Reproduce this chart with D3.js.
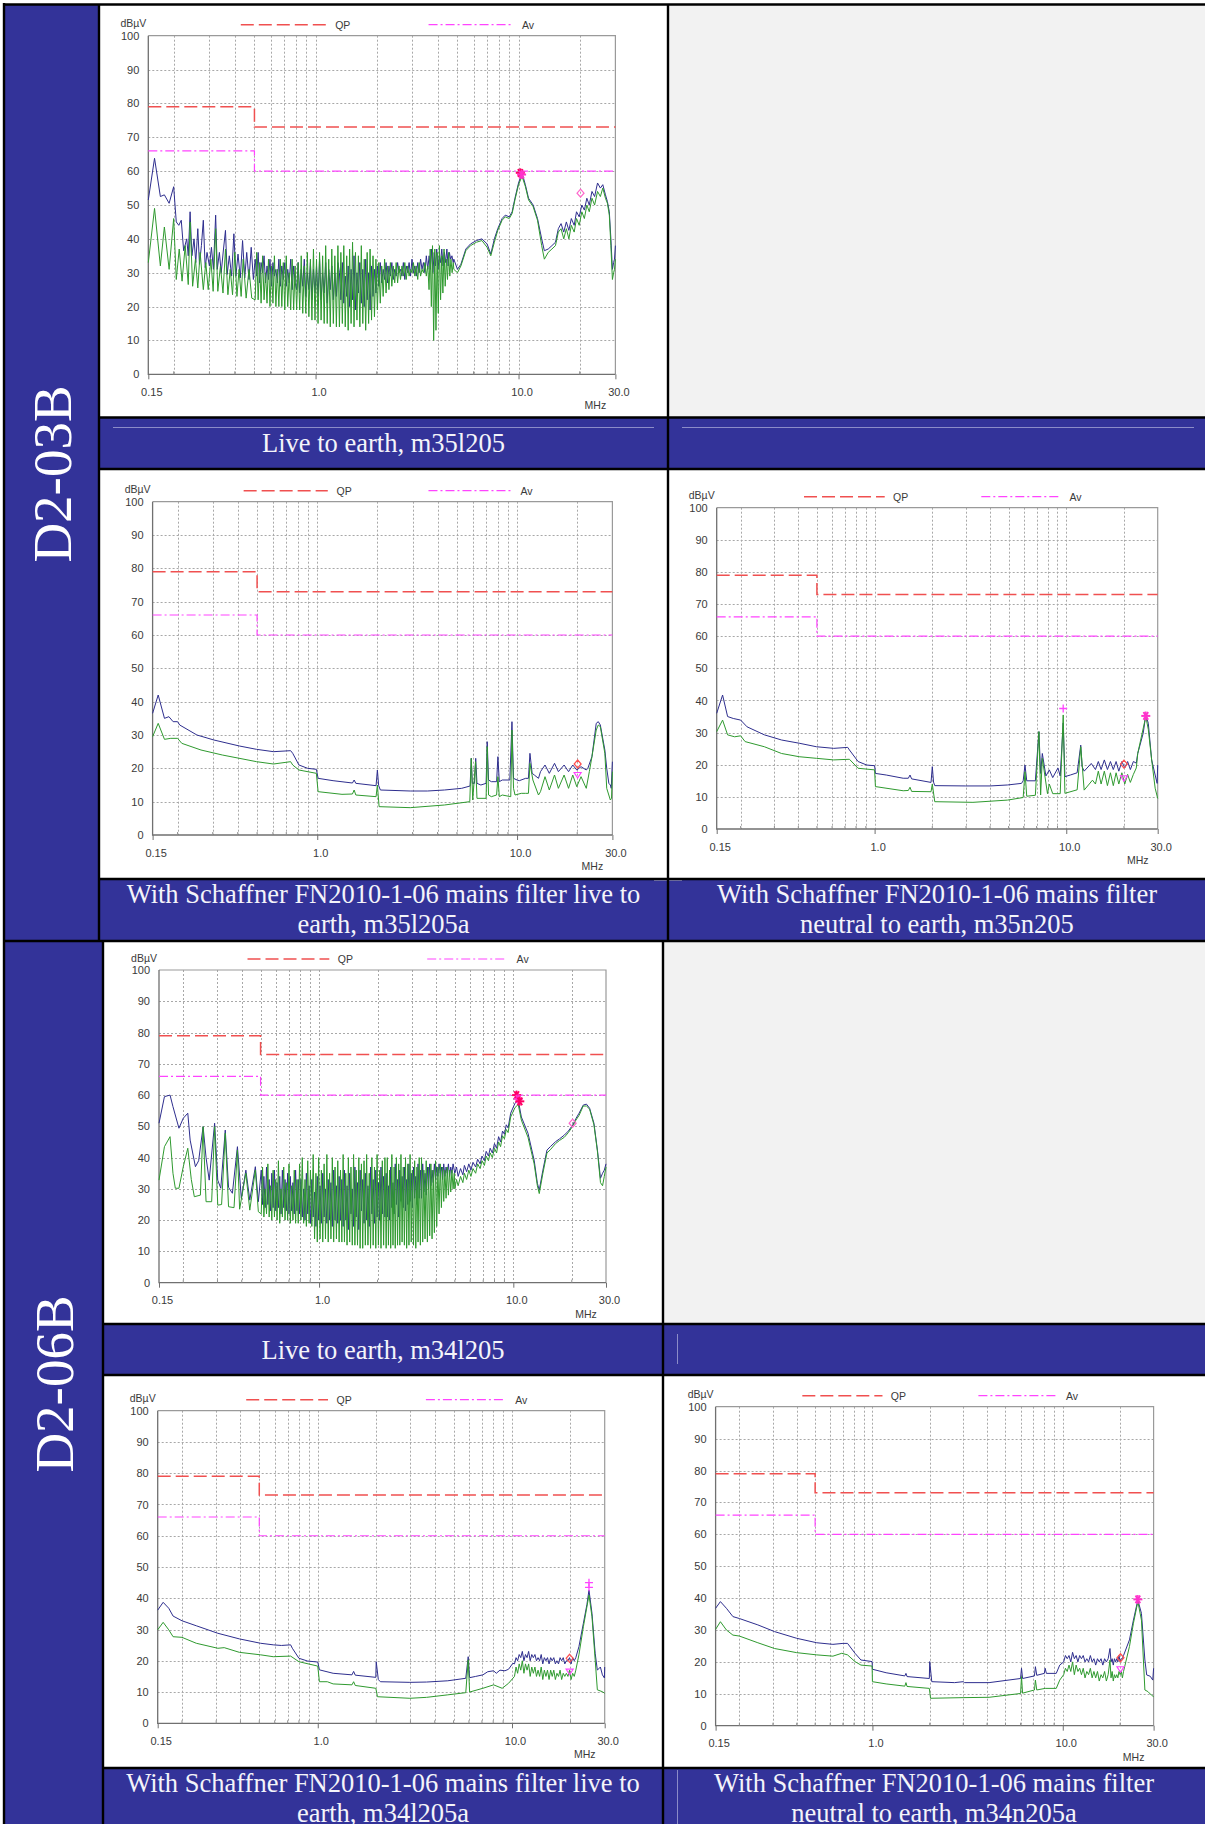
<!DOCTYPE html>
<html>
<head>
<meta charset="utf-8">
<script src="https://cdn.jsdelivr.net/npm/d3@7"></script>
<style>
  body { margin: 0; background: #fff; }
  svg { display: block; }
</style>
</head>
<body>
<div id="page"></div>
<script>
// ---- shared axis data ----
const xTickValues = [0.15, 1, 10, 30];
const xTickLabels = ["0.15", "1.0", "10.0", "30.0"];
const yTickValues = [0, 10, 20, 30, 40, 50, 60, 70, 80, 90, 100];
const gridFreqs = [0.2, 0.3, 0.4, 0.5, 0.6, 0.7, 0.8, 0.9, 2, 3, 4, 5, 6, 7, 8, 9, 20];

// EN55022 class A style limits
const qpLimit = [[0.15, 79], [0.5, 79], [0.5, 73], [30, 73]];
const avLimit = [[0.15, 66], [0.5, 66], [0.5, 60], [30, 60]];

// ---- traces: [MHz, dBuV] pairs, or {from,to,v} runs of readings across a band ----
// m35l205 : D2-03B live to earth
const m35l205Peak = [
  [0.15,51.5],[0.161,63.8],[0.172,52.5],[0.18,53],[0.19,50.5],[0.2,55.4],[0.206,45],[0.212,44],
  [0.218,45.5],[0.224,36.5],[0.232,40],[0.236,35],[0.241,48],[0.246,35],[0.252,40],[0.257,33],
  [0.263,43],[0.268,32.5],[0.274,38],[0.28,45.5],[0.286,31.5],[0.292,36],[0.3,32],[0.307,37.5],
  [0.314,31],[0.322,47],[0.328,31],[0.336,36],[0.343,30],[0.352,37],[0.36,42.5],[0.367,29.5],
  [0.376,35],[0.386,29],[0.396,41.5],[0.405,29],[0.415,35.5],[0.426,28.5],[0.437,39.5],
  [0.448,28.5],[0.458,36],[0.47,28],[0.482,37.5],[0.494,28],
  {from:0.5, to:0.8, v:[34,29,36,27,33,30,35,27,32,28,34,26,33,29,31,27,34,26,32,28,33,26,31,27,34,25,32,27]},
  {from:0.8, to:1.3, v:[25,33,24,31,26,34,23,30,25,33,22,31,24,32,23,34,22,30,24,33,21,31,25,32,22,30,23,33]},
  {from:1.3, to:2.0, v:[30,22,33,21,29,23,32,20,31,22,35,19,30,24,33,21,31,20,34,22,30,19,32,23,31,24]},
  {from:2.0, to:2.6, v:[32,26,33,27,31,28,33,27,32,29,33,28,31,29,33,30]},
  {from:2.6, to:3.6, v:[31,29,33,28,32,30,33,29,34,30,32,29,33,30,34,31,33,30,35,31]},
  {from:3.6, to:4.8, v:[35,31,37,30,36,32,37,31,35,33,37,32,36,33,37,32,36,34,35,33]},
  [4.8,34],[5.0,31],[5.2,32.5],[5.5,37],[5.8,38.5],[6.2,39.5],[6.6,40],[7.0,38.5],[7.3,35.5],
  [7.6,40],[7.9,43],[8.3,46],[8.6,47],[9.0,46.5],[9.3,48],[9.6,52],[10,56.5],[10.4,59.5],
  [10.8,56],[11.2,52],[11.8,50],[12.4,46],[13.0,40],[13.4,36.5],[14.0,37],[14.6,38],[15.2,39],
  [15.7,43],[16.2,44.5],[16.7,42],[17.2,45],[17.7,42.5],[18.2,46],[18.8,44],[19.3,48],
  [19.9,46.5],[20.5,50],[21.1,48.5],[21.7,52],[22.3,50],[23,54],[23.7,52.5],[24.5,56.5],
  [25.3,55],[26,56],[26.8,53],[27.4,51],[28,48],[28.5,40],[29,31],[29.4,33],[29.7,34],[30,38]
];
const m35l205Av = [
  [0.15,33],[0.161,49],[0.172,32],[0.18,43.5],[0.19,31],[0.2,46],[0.206,28],[0.213,37],
  [0.22,27.5],[0.228,38],[0.236,26.5],[0.241,45],[0.248,26],[0.256,34],[0.263,25.5],[0.27,36],
  [0.28,25],[0.288,33],[0.296,25],[0.305,34],[0.313,24.5],[0.322,43],[0.33,24.5],[0.34,32],
  [0.35,24],[0.36,37],[0.37,23.5],[0.38,31],[0.39,23.5],[0.4,36],[0.41,23],[0.42,31],[0.43,23],
  [0.44,34],[0.455,22.5],[0.47,31],[0.485,22.5],
  {from:0.5, to:0.8, v:[22,36,22,33,21,35,22,30,21,34,20,32,21,35,20,31,20,34,20,33,19,35,20,30,19,34,19,32]},
  {from:0.8, to:1.3, v:[19,33,19,35,18,32,18,36,17,34,16,37,16,34,15,36,16,35,15,38,15,34,14,37,15,35,14,38]},
  {from:1.3, to:2.0, v:[14,36,15,38,14,35,13,37,15,39,14,36,16,35,14,38,15,34,13,36,15,37,16,35,17,34]},
  {from:2.0, to:2.6, v:[19,33,21,32,23,34,24,32,25,33,26,32,27,33,27,32]},
  {from:2.6, to:3.6, v:[28,32,29,33,28,32,29,31,30,33,29,32,28,33,29,31,30,33,29,32]},
  {from:3.6, to:4.8, v:[25,37,20,38,10,37,13,36,18,38,22,35,24,37,26,34,28,36,29,34,30,33]},
  [4.8,31],[5.0,30],[5.2,32],[5.5,36.5],[5.8,38],[6.2,39],[6.6,39.5],[7.0,37.5],[7.3,35],
  [7.6,39],[7.9,42.5],[8.3,45.5],[8.6,46.5],[9.0,46],[9.3,47.5],[9.6,51.5],[10,56],[10.4,58.5],
  [10.8,55.5],[11.2,51.5],[11.8,49.5],[12.4,45.5],[13.0,38],[13.4,34],[14.0,36],[14.6,37],
  [15.2,38],[15.7,42],[16.2,43],[16.7,40],[17.2,43],[17.7,40],[18.2,44],[18.8,42],[19.3,46],
  [19.9,44],[20.5,48],[21.1,46],[21.7,50],[22.3,48],[23,52],[23.7,50],[24.5,54],[25.3,52.5],
  [26,55],[26.8,52],[27.4,50.5],[28,47],[28.5,38],[29,28],[29.4,30],[29.7,31],[30,34]
];
const m35l205Marks = [[10.2,59.5,"star","#ff0066"],[10.35,59,"star","#ff33cc"],[20.2,53.5,"diamond","#ff66cc"]];

// m35l205a : D2-03B with filter, live to earth
const m35l205aPeak = [
  [0.15,36.5],[0.16,42],[0.172,35],[0.181,35.5],[0.19,34],[0.2,34],[0.205,33],[0.25,30],
  [0.304,28.5],[0.408,26.7],[0.497,25.7],[0.604,25],[0.736,25.3],[0.754,24.5],[0.81,21],
  [0.896,20],[0.99,19.7],[1.01,17],[1.2,16.3],[1.5,15.6],[1.53,16.5],[1.56,15.5],[1.97,14.8],
  [2.0,19.5],[2.03,14.8],[2.07,13.5],[2.92,13.2],[3.56,13.2],[4.33,13.5],[5.28,14],[5.82,14.7],
  [5.9,23],[5.97,15.5],[6.12,15.5],[6.21,23],[6.3,15.5],[6.59,15],[7.0,15.5],[7.09,28],
  [7.2,16.5],[7.44,16],[7.9,16],[8.02,23.5],[8.15,16],[8.43,16.5],[9.2,16.5],[9.43,34],
  [9.6,17],[10.0,16.5],[10.26,16.3],[11.04,17],[11.4,17],[11.6,24.5],[11.9,18.5],[12.2,18],
  [12.8,17],[13.1,19],[13.8,21],[14.5,18.5],[15.4,21.5],[16.1,19],[17.2,21],[18.1,19],[19.0,21],
  [19.9,19.5],[20.9,20.5],[22.2,19.5],[22.6,20],[23.7,23.5],[24.9,33.5],[25.5,34],[26.1,33],
  [27.5,25.5],[28.1,20],[28.8,15.5],[29.3,15],[29.6,14],[30,22]
];
const m35l205aAv = [
  [0.15,29.5],[0.16,33.5],[0.172,28.7],[0.185,29],[0.2,29],[0.21,27.5],[0.262,25.5],[0.335,24],
  [0.497,22],[0.604,21.3],[0.736,22],[0.754,21],[0.81,19.5],[0.99,18.5],[1.01,13],[1.33,12.2],
  [1.5,12.3],[1.53,13.5],[1.56,12],[1.97,11.5],[2.0,15],[2.04,8.5],[2.92,8.2],[4.33,9],[5.8,10],
  [5.9,23],[6.0,10.5],[6.2,22],[6.3,11],[7.0,11],[7.09,26.5],[7.2,12],[7.44,11.5],[7.9,12],
  [8.02,17.5],[8.15,11.5],[8.43,12],[9.3,11.5],[9.43,31.5],[9.6,14],[9.77,12],[10.5,12.5],
  [11.04,12.5],[11.4,12.5],[11.6,21.5],[12.0,16.5],[12.8,12],[13.1,13],[13.8,17.5],[14.5,13.5],
  [15.4,18],[16.1,14],[17.2,18],[18.1,14],[19.0,18],[19.9,14.5],[20.9,17.5],[22.2,14],[23.0,19],
  [23.7,23.5],[24.9,31.5],[25.5,33],[26.1,32.5],[27.5,24.5],[28.1,14],[29.3,10.5],[29.7,11],[30,19]
];
const m35l205aMarks = [[20.1,21.3,"diamond","#ff5050"],[20.1,18,"tri","#ff44ff"]];

// m35n205 : D2-03B with filter, neutral to earth
const m35n205Peak = [
  [0.15,36],[0.161,41.7],[0.171,35],[0.183,34.4],[0.2,33.9],[0.216,31.8],[0.266,29.3],[0.327,27.7],
  [0.404,26.7],[0.497,25.6],[0.612,25.1],[0.724,25.4],[0.739,24.6],[0.82,21],[0.91,19.9],[1.0,19.7],
  [1.01,17.3],[1.15,16.8],[1.41,15.8],[1.5,15.8],[1.53,16.8],[1.56,15.6],[1.97,14.5],[2.0,19.4],
  [2.03,14.6],[2.06,13.5],[2.99,13.4],[4.01,13.4],[4.94,13.7],[5.84,14.2],[5.96,15],[6.09,19.9],
  [6.22,15],[6.9,15],[7.2,30.3],[7.35,17.3],[7.5,23.5],[7.83,16.5],[8.16,18.4],[8.5,16],[9.05,19],
  [9.3,16.5],[9.64,33],[9.84,16.3],[10.5,16.8],[11.4,17.5],[11.9,26.1],[12.1,19.4],[12.4,18],
  [13.5,20.4],[14.2,18.5],[14.7,21],[15.2,18.5],[15.8,21.5],[16.4,18.5],[17.0,21],[17.6,18.5],
  [18.2,21],[18.8,18],[19.5,21],[20.2,19],[20.9,21],[21.6,18.5],[22.4,21],[23.2,20.5],[23.6,23.5],
  [25.2,29.8],[26.0,35.5],[26.8,32.9],[27.9,21.5],[29.1,16.8],[29.8,14.2],[30,19.9]
];
const m35n205Av = [
  [0.15,30.3],[0.161,33.9],[0.171,29.3],[0.186,28.7],[0.2,29],[0.211,27.2],[0.266,25.6],[0.327,23.5],
  [0.404,22.5],[0.497,22],[0.612,21.5],[0.739,21.7],[0.82,18.9],[1.0,18.4],[1.01,13.2],[1.41,11.9],
  [1.5,12],[1.53,13],[1.56,11.7],[1.97,11.6],[2.0,14],[2.06,8.5],[3.26,8.3],[4.94,9],[5.96,9.8],
  [6.09,17.8],[6.22,10.2],[6.9,10.5],[7.2,30.3],[7.35,10.6],[7.5,22],[7.98,11],[8.16,14],[8.5,11],
  [9.3,11],[9.64,35.5],[9.84,11.1],[11.4,12.2],[11.9,25.6],[12.4,12.1],[13.7,15.2],[14.2,14],
  [14.7,18],[15.2,14],[15.8,18],[16.4,13.5],[17.0,17.5],[17.6,13.5],[18.2,17.5],[18.8,14],[19.5,17.5],
  [20.2,14],[20.9,17],[21.6,14.5],[22.4,17],[23.2,19],[23.6,23.5],[26.0,35],[26.8,31],[27.9,21.5],
  [29.1,12.7],[30,9.5]
];
const m35n205Marks = [[9.64,37.5,"plus","#ff44ff"],[26.0,35.2,"star","#ff33cc"],[20.0,20.2,"diamond","#ff5050"],[20.0,15.8,"tri","#ff44ff"]];

// m34l205 : D2-06B live to earth
const m34l205Peak = [
  [0.15,51],[0.16,59.5],[0.171,60],[0.177,56.3],[0.19,49.4],[0.2,52.6],[0.211,54.2],[0.217,45.6],
  [0.231,37.1],[0.24,39],[0.253,49.9],[0.262,40],[0.272,32.8],[0.29,51],[0.301,32.8],[0.312,30.2],
  [0.329,48.8],[0.342,30.5],[0.358,28.6],[0.38,43.5],[0.398,27],[0.42,36],[0.44,26.4],[0.47,37.1],
  [0.487,25.9],
  {from:0.5, to:0.8, v:[36,25,34,24,37,25,33,23,35,24,36,23,32,24,34,22,36,24,33,23,35,22,34,23,32,22,36,23,33,22]},
  {from:0.8, to:1.3, v:[33,21,30,20,35,22,31,19,33,21,29,18,34,20,31,19,35,21,30,19,33,20,32,18,36,20,31,19,34,20]},
  {from:1.3, to:2.2, v:[33,18,36,20,31,17,35,22,30,18,37,21,32,17,36,23,33,19,35,20,31,18,37,22,33,19,36,21,32,20,37,22,34,21]},
  {from:2.2, to:3.3, v:[35,21,31,20,37,24,32,22,38,25,33,21,36,26,34,24,37,23,33,25,38,26,35,24,37,27,34,25,38,27]},
  {from:3.3, to:5.0, v:[36,27,38,29,35,28,37,30,38,31,36,32,38,33,37,34,38,35,37,33,38,34,37,35,38,34,37,35,38,36]},
  [5.0,35],[5.1,37],[5.2,34],[5.35,36.5],[5.5,34.5],[5.6,37.5],[5.75,35.5],[5.9,38],[6.05,36],
  [6.2,38.5],[6.4,37],[6.55,39.5],[6.75,38],[6.9,40.5],[7.1,39],[7.25,42],[7.45,40.5],[7.6,43],
  [7.8,41.5],[8.0,44.5],[8.2,43],[8.4,46.7],[8.6,45],[8.8,48.5],[9.0,47.5],[9.2,50.5],[9.4,49.5],
  [9.69,54.2],[10.2,57.4],[10.6,58.4],[11.0,53],[11.9,47.8],[12.8,39.2],[13.3,31.8],[13.6,29.6],
  [14.2,36],[14.9,42.4],[15.5,43.5],[16.5,45.1],[17.3,46],[18.3,47.2],[19.2,48.5],[20.2,50.4],
  [21.0,52.5],[21.8,54.2],[22.9,56.8],[23.8,57.1],[24.7,55.8],[26.0,51],[27.1,42.4],[28.1,33.4],
  [28.8,35],[29.4,36],[30,38]
];
const m34l205Av = [
  [0.15,32.8],[0.16,43.5],[0.171,46.7],[0.177,35],[0.182,30.2],[0.19,30.2],[0.2,37.1],[0.211,43],
  [0.22,33],[0.228,27.5],[0.245,28],[0.253,49.9],[0.262,25.9],[0.28,25.9],[0.29,49.9],[0.301,24.8],
  [0.315,25],[0.329,47.8],[0.342,24.3],[0.365,24],[0.38,42.4],[0.39,23.5],[0.42,35],[0.44,23.2],
  [0.47,36],[0.487,22.7],
  {from:0.5, to:0.8, v:[22,37,21,30,22,38,21,31,20,36,21,33,20,39,19,30,21,37,20,32,20,38,19,31,20,36,19,33,19,38]},
  {from:0.8, to:1.3, v:[20,40,19,33,18,39,19,36,18,41,14,35,13,40,14,36,13,38,14,41,13,35,14,40,13,37,14,39,13,36]},
  {from:1.3, to:2.2, v:[13,41,13,35,12,40,13,37,12,41,12,36,12,40,11,38,11,39,12,41,12,35,11,40,12,37,11,41,12,36,11,39,12,40]},
  {from:2.2, to:3.3, v:[11,40,12,36,11,41,12,37,11,40,12,38,12,41,13,37,12,40,11,38,12,41,13,36,12,39,11,37,13,40]},
  {from:3.3, to:5.0, v:[12,40,13,36,14,39,13,37,15,38,14,36,16,39,18,37,22,38,24,37,26,36,27,37,28,36,29,36,30,35]},
  [5.0,30],[5.1,33],[5.2,31],[5.35,34],[5.5,32],[5.6,35],[5.75,33],[5.9,36],[6.05,34],[6.2,36.5],
  [6.4,35],[6.55,38],[6.75,36.5],[6.9,39],[7.1,37.5],[7.25,40.5],[7.45,39],[7.6,41.5],[7.8,40],
  [8.0,43],[8.2,41.5],[8.4,45],[8.6,43.5],[8.8,47],[9.0,46],[9.2,49],[9.4,48],[9.69,53],[10.2,56],
  [10.6,57],[11.0,52],[11.9,46.5],[12.8,38],[13.3,31],[13.6,28.5],[14.2,35],[14.9,41.5],[15.5,42.5],
  [16.5,44.5],[17.3,45.5],[18.3,46.5],[19.2,48],[20.2,50],[21.0,52],[21.8,53.5],[22.9,56.5],
  [23.8,56.5],[24.7,55.5],[26.0,50.5],[27.1,42],[28.1,32],[28.8,31],[29.4,34],[30,37]
];
const m34l205Marks = [[10.4,60,"star","#ff0066"],[10.6,58.8,"star","#ff33cc"],[10.8,58,"star","#ff0066"],[20.2,51,"diamond","#ff66cc"]];

// m34l205a : D2-06B with filter, live to earth
const m34l205aPeak = [
  [0.15,36.2],[0.16,38.7],[0.171,36.8],[0.18,34.3],[0.2,32.8],[0.237,31.2],[0.306,28.8],[0.395,27],
  [0.508,25.6],[0.59,25.1],[0.65,24.9],[0.725,25.1],[0.74,24],[0.8,20.8],[0.888,19.9],[1.0,19.6],
  [1.02,17.1],[1.2,16],[1.5,15.5],[1.53,16.6],[1.56,15.4],[1.99,14.7],[2.0,19.7],[2.05,14],[2.1,13.3],
  [2.98,13.1],[3.63,13.2],[4.67,13.6],[5.78,14.4],[5.95,21.3],[6.05,14.6],[6.5,15],[7.08,15.5],
  [7.5,16.5],[8.04,16.8],[8.3,16],[8.67,17],[9.2,16.8],[9.6,17.3],[10.1,19.2],
  {from:10.2, to:21.5, v:[19,21,20,22,21,23,20,22,21,23,20,22,21,22,20,21,20,22,19,21,20,21,19,21,20,21,19,20,19,21,20,21,19,20,20,21,19,21,20,21]},
  [22.1,24.5],[23.3,32],[24.3,38],[24.9,42.6],[25.8,35.2],[26.8,22.4],
  [27.5,17],[28.5,18],[29.2,15.5],[29.9,14.5],[30,18]
];
const m34l205aAv = [
  [0.15,29.9],[0.16,32.3],[0.171,29.9],[0.18,27.7],[0.2,27.5],[0.237,25.6],[0.306,24],[0.33,24.2],
  [0.395,22.7],[0.508,21.9],[0.59,21.3],[0.725,21.5],[0.8,19.7],[1.0,18.3],[1.02,13.3],[1.12,13.3],
  [1.2,12.6],[1.5,12.3],[1.53,13.3],[1.56,12.1],[1.99,11.2],[2.03,8.5],[2.98,8],[3.63,8.3],[4.67,9.1],
  [5.78,9.8],[5.95,20.3],[6.05,10],[7.08,11.2],[8.04,12.3],[8.9,11.2],[9.6,12.8],
  {from:10.2, to:21.5, v:[15,18,16,19,17,20,16,19,17,19,15,18,16,18,15,17,15,18,14,17,15,17,14,17,15,17,14,16,15,17,14,16,15,16,15,17,14,16,15,17]},
  [22.1,21.9],[23.3,30.9],[24.9,41],
  [25.8,34.1],[26.8,20.3],[27.5,10.7],[29.2,10.1],[30,9.6]
];
const m34l205aMarks = [[24.9,45,"plus","#ff44ff"],[24.9,43.5,"plus","#ff44ff"],[19.8,20.8,"diamond","#ff5050"],[19.8,16.5,"tri","#ff44ff"]];

// m34n205a : D2-06B with filter, neutral to earth
const m34n205aPeak = [
  [0.15,36.8],[0.159,38.9],[0.171,36.8],[0.185,34.2],[0.2,33.6],[0.25,31.6],[0.306,29.5],[0.4,27.4],
  [0.51,26],[0.62,25.5],[0.7,25.8],[0.74,25.8],[0.81,22.7],[0.87,20.6],[0.996,20.1],[1.0,17.7],
  [1.18,16.6],[1.48,15.6],[1.5,16.4],[1.52,15.4],[1.99,14.8],[2.0,20.1],[2.05,13.8],[2.7,13.5],
  [3.0,13.8],[3.05,13.5],[4.1,13.5],[6.0,14.8],[6.07,18],[6.15,14.8],[7.1,15.6],[7.18,18.5],[7.3,15.8],
  [8.0,16.4],[8.08,18],[8.2,16.4],[9.24,16.4],[9.64,19],
  {from:10.0, to:17.5, v:[20,22,21,22,20,23,21,22,20,22,21,22,20,21,20,22,20,21,19,21,20,21,19,21,20,21]},
  [17.7,24.2],
  {from:17.8, to:21.0, v:[20,21,19,21,20,21,20,22,20,21,21,22]},
  [22.4,26.9],[23.5,33.1],[24.8,39.4],
  [25.9,35.2],[27.0,20.6],[27.6,15.9],[28.8,15.5],[29.7,14.3],[30,18]
];
const m34n205aAv = [
  [0.15,30.2],[0.159,32.6],[0.171,30],[0.185,28.4],[0.2,28.1],[0.25,26],[0.306,24.2],[0.4,22.9],
  [0.51,22.2],[0.62,21.8],[0.69,22.7],[0.74,22.2],[0.81,20.1],[0.87,19],[0.996,18.7],[1.0,13.8],
  [1.18,13.1],[1.48,12.4],[1.5,13.5],[1.52,12.3],[1.99,11.7],[2.02,8.6],[3.0,8.8],[4.1,8.9],[6.0,10.1],
  [6.07,15.4],[6.15,10.2],[7.1,11.2],[7.18,14.3],[7.3,11.2],[8.08,11.7],[9.24,11.7],[9.64,14.3],
  {from:10.0, to:17.5, v:[16,18,17,19,17,20,16,19,17,18,16,18,15,17,16,18,15,17,15,17,14,16,15,17,14,16]},
  [17.7,20.6],
  {from:17.8, to:21.0, v:[15,17,14,16,15,16,15,17,16,17,15,17]},
  [22.4,24.8],[23.5,32.1],[24.8,38.9],[25.9,33.1],[27.0,11.2],[28.0,10.7],[29.2,9.6],[30,9.1]
];
const m34n205aMarks = [[24.8,39.6,"star","#ff33cc"],[20.1,21.3,"diamond","#ff5050"],[20.1,17.7,"tri","#ff44ff"]];

// ---- captions ----
const sectionLabels = ["D2-03B", "D2-06B"];
const captions = {
  r1l: ["Live to earth, m35l205"],
  r2l: ["With Schaffner FN2010-1-06 mains filter live to", "earth, m35l205a"],
  r2r: ["With Schaffner FN2010-1-06 mains filter", "neutral to earth, m35n205"],
  r3l: ["Live to earth, m34l205"],
  r4l: ["With Schaffner FN2010-1-06 mains filter live to", "earth, m34l205a"],
  r4r: ["With Schaffner FN2010-1-06 mains filter", "neutral to earth, m34n205a"]
};

// ---- page ----
const W = 1205, H = 1824;
const BAND = "#333399", PANEL = "#f2f2f2";
const SERIF = "'Liberation Serif','Times New Roman',serif";
const SANS = "'Liberation Sans',Arial,sans-serif";

const svg = d3.select("#page").append("svg")
  .attr("width", W).attr("height", H)
  .attr("viewBox", [0, 0, W, H]);

svg.append("rect").attr("width", W).attr("height", H).attr("fill", "#fff");

// table cells
const cells = [
  // label columns
  {x: 4, y: 4, w: 95, h: 937, fill: BAND},
  {x: 4, y: 941, w: 99, h: 883, fill: BAND},
  // empty grey panels
  {x: 668, y: 4, w: 537, h: 413, fill: PANEL},
  {x: 663, y: 941, w: 542, h: 383, fill: PANEL},
  // caption bands
  {x: 99, y: 417, w: 1106, h: 52, fill: BAND},
  {x: 99, y: 879, w: 1106, h: 62, fill: BAND},
  {x: 103, y: 1324, w: 1102, h: 51, fill: BAND},
  {x: 103, y: 1768, w: 1102, h: 56, fill: BAND}
];
svg.append("g").selectAll("rect").data(cells).join("rect")
  .attr("x", d => d.x).attr("y", d => d.y)
  .attr("width", d => d.w).attr("height", d => d.h)
  .attr("fill", d => d.fill);

// faint rules inside caption bands
const faint = [
  [113, 427.5, 654, 427.5], [682, 427.5, 1194, 427.5],
  [654, 880.5, 682, 880.5],
  [677.5, 1334, 677.5, 1364], [677.5, 1770, 677.5, 1824]
];
svg.append("g").selectAll("line").data(faint).join("line")
  .attr("x1", d => d[0]).attr("y1", d => d[1]).attr("x2", d => d[2]).attr("y2", d => d[3])
  .attr("stroke", "#8c8cc8").attr("stroke-width", 1);

// black borders
const borders = [
  [3, 4.5, W, 4.5], [4, 3, 4, H],
  [99, 4, 99, 941], [103, 941, 103, H],
  [668, 4, 668, 941], [663, 941, 663, H],
  [99, 417.5, W, 417.5], [99, 469, W, 469], [99, 879, W, 879], [4, 941, W, 941],
  [103, 1324, W, 1324], [103, 1375, W, 1375], [103, 1768, W, 1768]
];
svg.append("g").selectAll("line").data(borders).join("line")
  .attr("x1", d => d[0]).attr("y1", d => d[1]).attr("x2", d => d[2]).attr("y2", d => d[3])
  .attr("stroke", "#000").attr("stroke-width", 2.4);

// rotated section labels
const labelPos = [[71, 474], [73, 1384]];
svg.append("g").selectAll("text").data(sectionLabels).join("text")
  .attr("transform", (d, i) => `translate(${labelPos[i][0]},${labelPos[i][1]}) rotate(-90)`)
  .attr("text-anchor", "middle")
  .attr("font-family", SERIF).attr("font-size", 55)
  .attr("fill", "#fff")
  .text(d => d);

// caption text
function caption(lines, cx, baseline) {
  svg.append("g").selectAll("text").data(lines).join("text")
    .attr("x", cx).attr("y", (d, i) => baseline + i * 30)
    .attr("text-anchor", "middle")
    .attr("font-family", SERIF).attr("font-size", 26.5)
    .attr("fill", "#f4f4fa")
    .text(d => d);
}
caption(captions.r1l, 383.5, 452);
caption(captions.r2l, 383.5, 903);
caption(captions.r2r, 937, 903);
caption(captions.r3l, 383, 1358.5);
caption(captions.r4l, 383, 1792);
caption(captions.r4r, 934, 1792);

// ---- chart drawing ----
function buildTrace(parts) {
  const pts = [];
  parts.forEach(p => {
    if (Array.isArray(p)) pts.push(p);
    else {
      const l0 = Math.log10(p.from), l1 = Math.log10(p.to), n = p.v.length;
      p.v.forEach((v, i) => pts.push([Math.pow(10, l0 + (l1 - l0) * (i + 0.5) / n), v]));
    }
  });
  return pts.sort((a, b) => a[0] - b[0]);
}

function marker(g, px, py, shape, color) {
  if (shape === "star") {
    [0, 60, 120].forEach(a => {
      const r = a * Math.PI / 180;
      g.append("line")
        .attr("x1", px - 4.5 * Math.cos(r)).attr("y1", py - 4.5 * Math.sin(r))
        .attr("x2", px + 4.5 * Math.cos(r)).attr("y2", py + 4.5 * Math.sin(r))
        .attr("stroke", color).attr("stroke-width", 2);
    });
    g.append("line").attr("x1", px).attr("x2", px).attr("y1", py - 4.5).attr("y2", py + 4.5)
      .attr("stroke", color).attr("stroke-width", 1.5);
  } else if (shape === "plus") {
    g.append("path").attr("d", `M${px - 4},${py}H${px + 4}M${px},${py - 4}V${py + 4}`)
      .attr("stroke", color).attr("stroke-width", 1.3);
  } else if (shape === "diamond") {
    g.append("path").attr("d", `M${px},${py - 4}L${px + 3.5},${py}L${px},${py + 4}L${px - 3.5},${py}Z`)
      .attr("fill", "none").attr("stroke", color).attr("stroke-width", 1.2);
  } else if (shape === "tri") {
    g.append("path").attr("d", `M${px - 3.5},${py - 2.5}H${px + 3.5}L${px},${py + 3}Z`)
      .attr("fill", "none").attr("stroke", color).attr("stroke-width", 1.2);
  }
}

function drawPlot(cfg) {
  const x = d3.scaleLog().domain([0.15, 30]).range([cfg.x0, cfg.x1]);
  const y = d3.scaleLinear().domain([0, 100]).range([cfg.y1, cfg.y0]);
  const w = cfg.x1 - cfg.x0;
  const g = svg.append("g");

  // dotted grid
  g.append("g").selectAll("line").data(yTickValues.filter(v => v > 0 && v < 100)).join("line")
    .attr("x1", cfg.x0).attr("x2", cfg.x1)
    .attr("y1", d => Math.round(y(d)) + 0.5).attr("y2", d => Math.round(y(d)) + 0.5)
    .attr("stroke", "#a8a8a8").attr("stroke-dasharray", "2,2");
  g.append("g").selectAll("line").data(gridFreqs.concat([1, 10])).join("line")
    .attr("x1", d => Math.round(x(d)) + 0.5).attr("x2", d => Math.round(x(d)) + 0.5)
    .attr("y1", cfg.y0).attr("y2", cfg.y1)
    .attr("stroke", "#a8a8a8").attr("stroke-dasharray", "2,2");

  // frame
  g.append("path")
    .attr("d", `M${cfg.x0},${cfg.y0}H${cfg.x1}V${cfg.y1}`)
    .attr("fill", "none").attr("stroke", "#9a9a9a").attr("stroke-width", 1.2);
  g.append("path")
    .attr("d", `M${cfg.x0},${cfg.y0}V${cfg.y1}H${cfg.x1}`)
    .attr("fill", "none").attr("stroke", "#707070").attr("stroke-width", 1.3);
  // small inner ticks on the frequency axis
  g.append("g").selectAll("line").data(gridFreqs).join("line")
    .attr("x1", d => x(d)).attr("x2", d => x(d))
    .attr("y1", cfg.y1).attr("y2", cfg.y1 - 3)
    .attr("stroke", "#909090");

  // axes (labels only)
  const ay = g.append("g").attr("transform", `translate(${cfg.x0},0)`)
    .call(d3.axisLeft(y).tickValues(yTickValues).tickSize(0).tickPadding(9));
  const ax = g.append("g").attr("transform", `translate(0,${cfg.y1})`)
    .call(d3.axisBottom(x).tickValues(xTickValues).tickFormat((d, i) => xTickLabels[i])
      .tickSize(5).tickPadding(9));
  [ay, ax].forEach(a => {
    a.select(".domain").remove();
    a.selectAll("text").attr("font-family", SANS).attr("font-size", 11).attr("fill", "#3a3a3a");
    a.selectAll(".tick line").attr("stroke", "#707070");
  });
  ax.selectAll("text").attr("dx", 3);

  g.append("text").attr("x", cfg.x0 - 2).attr("y", cfg.y0 - 8.5)
    .attr("text-anchor", "end").attr("font-family", SANS).attr("font-size", 10.5)
    .attr("fill", "#3a3a3a").text("dBµV");
  g.append("text").attr("x", cfg.x1 - 20).attr("y", cfg.y1 + 35)
    .attr("text-anchor", "middle").attr("font-family", SANS).attr("font-size", 10.5)
    .attr("fill", "#3a3a3a").text("MHz");

  // legend
  const ly = cfg.y0 - 11;
  g.append("line").attr("x1", cfg.x0 + 0.198 * w).attr("x2", cfg.x0 + 0.381 * w)
    .attr("y1", ly).attr("y2", ly)
    .attr("stroke", "#f05050").attr("stroke-width", 1.5).attr("stroke-dasharray", "13,5");
  g.append("text").attr("x", cfg.x0 + 0.4 * w).attr("y", ly + 4)
    .attr("font-family", SANS).attr("font-size", 10.5).attr("fill", "#3a3a3a").text("QP");
  g.append("line").attr("x1", cfg.x0 + 0.6 * w).attr("x2", cfg.x0 + 0.779 * w)
    .attr("y1", ly).attr("y2", ly)
    .attr("stroke", "#ff44ff").attr("stroke-width", 1.2).attr("stroke-dasharray", "9,3,2,3");
  g.append("text").attr("x", cfg.x0 + 0.8 * w).attr("y", ly + 4)
    .attr("font-family", SANS).attr("font-size", 10.5).attr("fill", "#3a3a3a").text("Av");

  const line = d3.line().x(d => x(d[0])).y(d => y(d[1]));

  // limits
  g.append("path").datum(qpLimit).attr("d", line)
    .attr("fill", "none").attr("stroke", "#f05050").attr("stroke-width", 1.5)
    .attr("stroke-dasharray", "13,5");
  g.append("path").datum(avLimit).attr("d", line)
    .attr("fill", "none").attr("stroke", "#ff44ff").attr("stroke-width", 1.2)
    .attr("stroke-dasharray", "9,3,2,3");

  // traces
  g.append("path").datum(buildTrace(cfg.peak)).attr("d", line)
    .attr("fill", "none").attr("stroke", "#2e2e8e").attr("stroke-width", 1)
    .attr("stroke-linejoin", "round");
  g.append("path").datum(buildTrace(cfg.av)).attr("d", line)
    .attr("fill", "none").attr("stroke", "#2f9a2f").attr("stroke-width", 1)
    .attr("stroke-linejoin", "round");

  const mg = g.append("g");
  cfg.marks.forEach(m => marker(mg, x(m[0]), y(m[1]), m[2], m[3]));
}

const plots = [
  {x0: 148.3, x1: 615.4, y0: 35.7, y1: 374.3, peak: m35l205Peak, av: m35l205Av, marks: m35l205Marks},
  {x0: 152.6, x1: 612.4, y0: 501.7, y1: 835, peak: m35l205aPeak, av: m35l205aAv, marks: m35l205aMarks},
  {x0: 716.7, x1: 1157.7, y0: 507.7, y1: 829, peak: m35n205Peak, av: m35n205Av, marks: m35n205Marks},
  {x0: 159, x1: 606, y0: 970, y1: 1282.7, peak: m34l205Peak, av: m34l205Av, marks: m34l205Marks},
  {x0: 157.7, x1: 604.7, y0: 1410.7, y1: 1723.3, peak: m34l205aPeak, av: m34l205aAv, marks: m34l205aMarks},
  {x0: 715.6, x1: 1153.6, y0: 1406.7, y1: 1725.7, peak: m34n205aPeak, av: m34n205aAv, marks: m34n205aMarks}
];
plots.forEach(drawPlot);
</script>
</body>
</html>
